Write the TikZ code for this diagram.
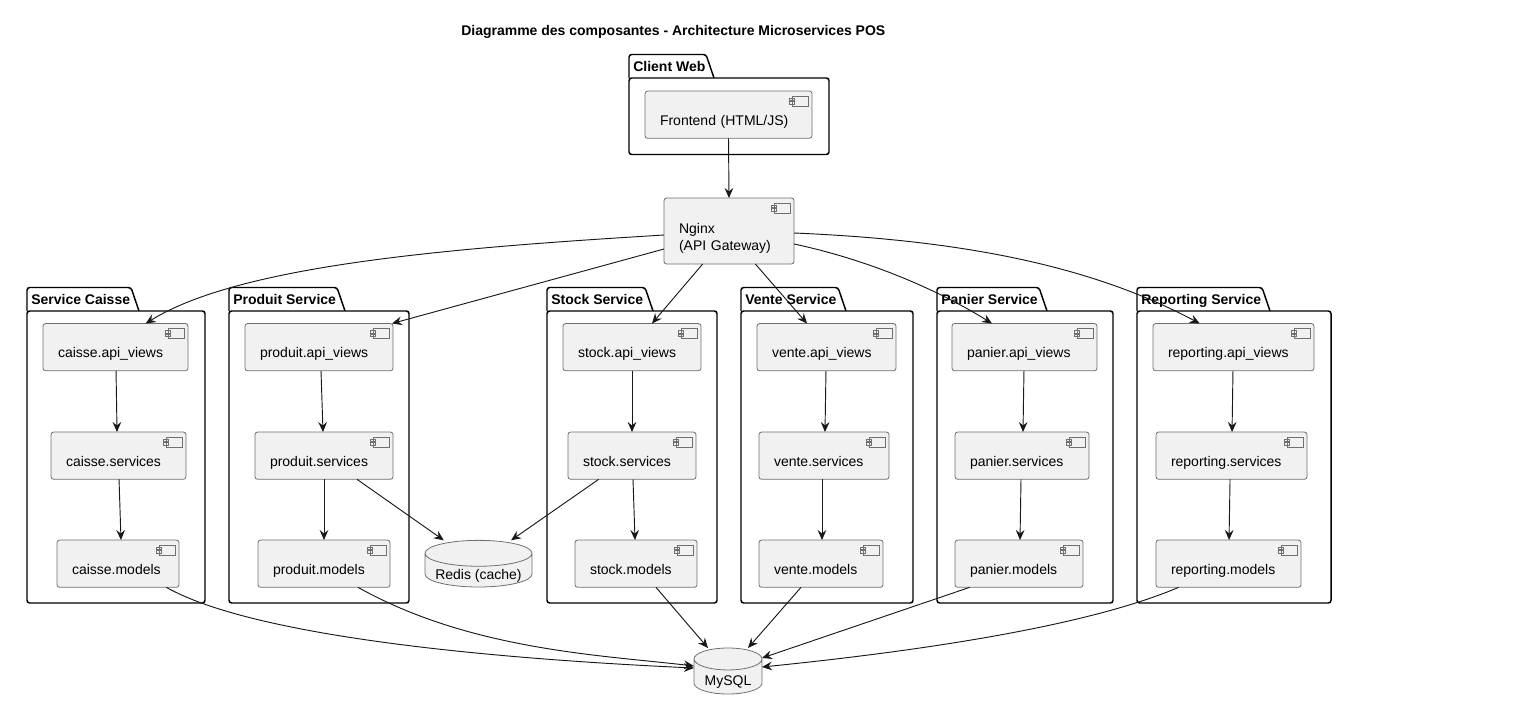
\documentclass[tikz,border=0pt]{standalone}
\usepackage{fontspec}
\setmainfont{Liberation Sans}
\usetikzlibrary{arrows.meta,shapes.geometric}
\definecolor{boxfill}{HTML}{F1F1F1}
\definecolor{boxline}{HTML}{181818}
\definecolor{boxedge}{HTML}{707070}
\tikzset{
  compbox/.style={
    rectangle, draw=boxedge, fill=boxfill, line width=0.6pt,
    rounded corners=2pt, anchor=north west, outer sep=0pt,
    minimum width={#1*0.75pt}, minimum height=35.5pt,
    text width={(#1-30)*0.75pt}, inner xsep=11.25pt, inner ysep=0pt,
    text height=19pt, text depth=3pt, align=left,
    font=\fontsize{10.5pt}{13.3pt}\selectfont,
    path picture={
      \coordinate (ne) at (path picture bounding box.north east);
      \filldraw[sharp corners, draw=boxedge, fill=boxfill, line width=0.6pt]
        ([xshift=-15pt,yshift=-3.75pt]ne) rectangle ([xshift=-3pt,yshift=-11.25pt]ne)
        ([xshift=-17pt,yshift=-5.25pt]ne) rectangle ([xshift=-13pt,yshift=-7.1pt]ne)
        ([xshift=-17pt,yshift=-7.9pt]ne) rectangle ([xshift=-13pt,yshift=-9.75pt]ne);
    }
  },
  dbbox/.style={
    cylinder, shape border rotate=90, aspect=#1, draw=boxedge, fill=boxfill,
    line width=0.6pt, outer sep=0pt, inner sep=0pt, anchor=south,
    font=\fontsize{10.5pt}{13.3pt}\selectfont
  },
  pkgbox/.style={
    rectangle, draw=black, line width=1.1pt, rounded corners=2pt,
    anchor=north west, outer sep=0pt, inner sep=0pt
  },
  pkgtitle/.style={
    anchor=base west, inner sep=0pt,
    font=\fontsize{10.5pt}{13pt}\selectfont\bfseries
  },
  deparrow/.style={
    -{Stealth[length=7.5pt, width=6.5pt, inset=2.6pt]}, draw=boxline, line width=0.7pt
  },
}
% name, left, right, top, bottom, tab corner, label
\newcommand{\servicepkg}[7]{
  \node[pkgbox, minimum width={(#3-#2)*0.75pt}, minimum height={(#5-#4)*0.75pt}] at (#2,#4) (#1) {};
  \draw[draw=black, line width=1.1pt, rounded corners=2pt] (#1.north west) -- (#2,#4-23.5) -- (#6,#4-23.5) -- (#6+8,#4);
  \node[pkgtitle] at (#2+4,#4-7) (#1title) {#7};
}
\begin{document}
\begin{tikzpicture}[x=0.75pt, y=-0.75pt]
  \useasboundingbox (0,0) rectangle (1534,725);
  \node[anchor=base west, inner sep=0pt, font=\fontsize{10.5pt}{13pt}\selectfont\bfseries] at (461,35) (title) {Diagramme des composantes - Architecture Microservices POS};

  % packages
  \servicepkg{clientpkg}{629}{829}{78}{154.5}{706}{Client Web}
  \servicepkg{caissepkg}{27}{205}{311}{603}{131}{Service Caisse}
  \servicepkg{produitpkg}{229}{409}{311}{603}{337}{Produit Service}
  \servicepkg{stockpkg}{547}{717}{311}{603}{645}{Stock Service}
  \servicepkg{ventepkg}{741}{913}{311}{603}{838}{Vente Service}
  \servicepkg{panierpkg}{937}{1113}{311}{603}{1039}{Panier Service}
  \servicepkg{reportingpkg}{1137}{1331}{311}{603}{1262}{Reporting Service}

  % components
  \node[compbox=167] at (645,91) (frontend) {Frontend (HTML/JS)};
  \node[compbox=130, minimum height=49.5pt, text height=6pt] at (664,198) (nginx) {Nginx\\(API Gateway)};

  \node[compbox=145] at (43,323.5) (caisseapi) {caisse.api\_views};
  \node[compbox=135] at (51,432) (caisseservices) {caisse.services};
  \node[compbox=122] at (57,540) (caissemodels) {caisse.models};

  \node[compbox=148] at (245,323.5) (produitapi) {produit.api\_views};
  \node[compbox=138] at (255,432) (produitservices) {produit.services};
  \node[compbox=132] at (258,540) (produitmodels) {produit.models};

  \node[compbox=138] at (563,323.5) (stockapi) {stock.api\_views};
  \node[compbox=128] at (568,432) (stockservices) {stock.services};
  \node[compbox=122] at (575,540) (stockmodels) {stock.models};

  \node[compbox=139] at (757,323.5) (venteapi) {vente.api\_views};
  \node[compbox=130] at (759,432) (venteservices) {vente.services};
  \node[compbox=124] at (759,540) (ventemodels) {vente.models};

  \node[compbox=145] at (952,323.5) (panierapi) {panier.api\_views};
  \node[compbox=134] at (955,432) (panierservices) {panier.services};
  \node[compbox=128] at (955,540) (paniermodels) {panier.models};

  \node[compbox=161] at (1153,323.5) (reportingapi) {reporting.api\_views};
  \node[compbox=151] at (1156,432) (reportingservices) {reporting.services};
  \node[compbox=145] at (1156,540) (reportingmodels) {reporting.models};

  \node[dbbox=0.3, minimum width=80.25pt, minimum height=35pt] at (478.5,587) (redis) {\raisebox{-7pt}[0pt][0pt]{Redis (cache)}};
  \node[dbbox=0.47, minimum width=51pt, minimum height=34.5pt] at (728,694) (mysql) {\raisebox{-6.5pt}[0pt][0pt]{MySQL}};

  % connectors
  \draw[deparrow] (frontend.south) -- (nginx.north);

  \draw[deparrow] (nginx.west |- 0,235) .. controls (450,248) and (240,265) .. ([xshift=77pt]caisseapi.north west);
  \draw[deparrow] (nginx.west |- 0,249) -- ([xshift=-0.75pt]produitapi.north east);
  \draw[deparrow] ([xshift=29pt]nginx.south west) -- ([xshift=66.75pt]stockapi.north west);
  \draw[deparrow] ([xshift=-29pt]nginx.south east) -- ([xshift=37.5pt]venteapi.north west);
  \draw[deparrow] (nginx.east |- 0,244) .. controls (860,258) and (930,285) .. ([xshift=30pt]panierapi.north west);
  \draw[deparrow] (nginx.east |- 0,233) .. controls (960,240) and (1090,265) .. ([xshift=35pt]reportingapi.north west);

  \draw[deparrow] ([xshift=0.4pt]caisseapi.south) -- ([xshift=-1.1pt]caisseservices.north);
  \draw[deparrow] ([xshift=0.4pt]caisseservices.south) -- ([xshift=2.25pt]caissemodels.north);
  \draw[deparrow] ([xshift=1.5pt]produitapi.south) -- ([xshift=-0.75pt]produitservices.north);
  \draw[deparrow] (produitservices.south) -- (produitmodels.north);
  \draw[deparrow] (stockapi.south) -- (stockservices.north);
  \draw[deparrow] ([xshift=0.75pt]stockservices.south) -- ([xshift=-0.75pt]stockmodels.north);
  \draw[deparrow] ([xshift=-0.4pt]venteapi.south) -- ([xshift=0.75pt]venteservices.north);
  \draw[deparrow] ([xshift=-1.5pt]venteservices.south) -- ([xshift=0.75pt]ventemodels.north);
  \draw[deparrow] ([xshift=-0.4pt]panierapi.south) -- ([xshift=0.75pt]panierservices.north);
  \draw[deparrow] ([xshift=-0.75pt]panierservices.south) -- ([xshift=0.75pt]paniermodels.north);
  \draw[deparrow] ([xshift=-0.4pt]reportingapi.south) -- ([xshift=0.4pt]reportingservices.north);
  \draw[deparrow] ([xshift=-1.1pt]reportingservices.south) -- ([xshift=0.4pt]reportingmodels.north);

  \draw[deparrow] ([xshift=76.5pt]produitservices.south west) -- ([xshift=-26pt]redis.north);
  \draw[deparrow] ([xshift=23pt]stockservices.south west) -- ([xshift=24.4pt]redis.north);

  \draw[deparrow] ([xshift=82pt]caissemodels.south west) .. controls (260,640) and (520,660) .. (mysql.west |- 0,668);
  \draw[deparrow] ([xshift=75pt]produitmodels.south west) .. controls (470,650) and (600,655) .. (mysql.west |- 0,666);
  \draw[deparrow] ([xshift=60.75pt]stockmodels.south west) -- ([xshift=-15pt]mysql.north);
  \draw[deparrow] ([xshift=31.5pt]ventemodels.south west) -- ([xshift=15pt]mysql.north);
  \draw[deparrow] ([xshift=11pt]paniermodels.south west) -- (mysql.east |- 0,658);
  \draw[deparrow] ([xshift=17pt]reportingmodels.south west) .. controls (1090,625) and (930,650) .. (mysql.east |- 0,667);
\end{tikzpicture}
\end{document}
